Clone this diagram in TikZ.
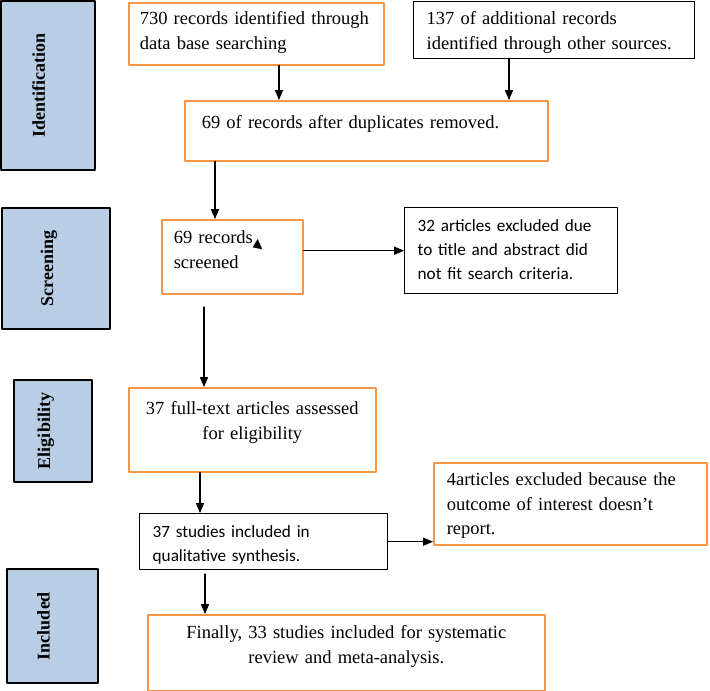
\documentclass[tikz,border=0pt]{standalone}
\usepackage{fontspec}
\setmainfont{Liberation Serif}
\newfontfamily\calibri{Carlito}
\usepackage{tikz}
\usetikzlibrary{arrows}
\definecolor{boxorange}{RGB}{247,150,70}
\definecolor{phaseblue}{RGB}{185,205,229}
\newcommand{\serifbox}{\fontsize{18.5}{24.5}\selectfont}
\newcommand{\sansbox}{\calibri\fontsize{17.2}{24}\selectfont}
\newcommand{\phasefont}{\bfseries\fontsize{18}{20}\selectfont}

\begin{document}
\begin{tikzpicture}[line cap=round,line join=round,>=triangle 45,x=1pt,y=-1pt,
  box/.style={draw=boxorange, line width=1.6pt, anchor=north west, inner ysep=0pt,
    inner xsep=13pt, align=left, font=\serifbox},
  plainbox/.style={box, draw=black, line width=1.4pt, font=\sansbox},
  phase/.style={draw, line width=1.5pt, fill=phaseblue, rotate=90, font=\phasefont,
    text height=13pt, text depth=19pt, inner sep=0pt},
  link/.style={->, line width=1.3pt}]
\useasboundingbox (0,0) rectangle (710,691);
% phase bars
\node[phase, minimum width=169, minimum height=94] (idbar) at (48,85.5) {Identification};
\node[phase, minimum width=121, minimum height=108] (scrbar) at (56,268.5) {Screening};
\node[phase, minimum width=102, minimum height=78] (elibar) at (53,431) {Eligibility};
\node[phase, minimum width=114, minimum height=91] (incbar) at (52.5,626) {Included};
% boxes
\node[box, inner xsep=11pt, text width=233, text height=22, text depth=40] (dbrec) at (128,2)
  {730 records identified through\\data base searching};
\node[box, draw=black, line width=1.4pt, text width=255, text height=23, text depth=34] (otherrec) at (413,1)
  {137 of additional records\\identified through other sources.};
\node[box, inner xsep=17pt, text width=329, text height=28, text depth=32] (dupl) at (184,100)
  {69 of records after duplicates removed.};
\node[box, inner xsep=12pt, text width=117, text height=24, text depth=50] (screened) at (161,219)
  {69 records\\screened};
\node[plainbox, text width=187, text height=24, text depth=62] (exclA) at (404,207)
  {32 articles excluded due\\to title and abstract did\\not fit search criteria.};
\node[box, inner xsep=8pt, align=center, text width=231, text height=27, text depth=57] (fulltext) at (128,387)
  {37 full-text articles assessed\\for eligibility};
\node[plainbox, text width=222, text height=24, text depth=32] (quali) at (139,513)
  {37 studies included in\\qualitative synthesis.};
\node[box, text width=247, text height=23, text depth=59] (exclB) at (433,462)
  {4articles excluded because the\\outcome of interest doesn’t\\report.};
\node[box, inner xsep=10pt, align=center, text width=377, text height=24, text depth=52] (final) at (147,614)
  {Finally, 33 studies included for systematic\\review and meta-analysis.};
% stray arrow head
\fill (252.7,247.3) -- (257.7,239) -- (262.3,249.3) -- cycle;
% connectors
\coordinate (gapD) at (204,307);
\coordinate (gapG) at (205,574);
\draw[link] (279,0 |- dbrec.south) -- (279,0 |- dupl.north);
\draw[link] (509,0 |- otherrec.south) -- (509,0 |- dupl.north);
\draw[link] (215,0 |- dupl.south) -- (215,0 |- screened.north);
\draw[link] (screened.east |- exclA.west) -- (exclA.west);
\draw[link] (gapD) -- (gapD |- fulltext.north);
\draw[link] (200,0 |- fulltext.south) -- (200,0 |- quali.north);
\draw[link] (quali.east) -- (quali.east -| exclB.west);
\draw[link] (gapG) -- (gapG |- final.north);
\end{tikzpicture}
\end{document}
